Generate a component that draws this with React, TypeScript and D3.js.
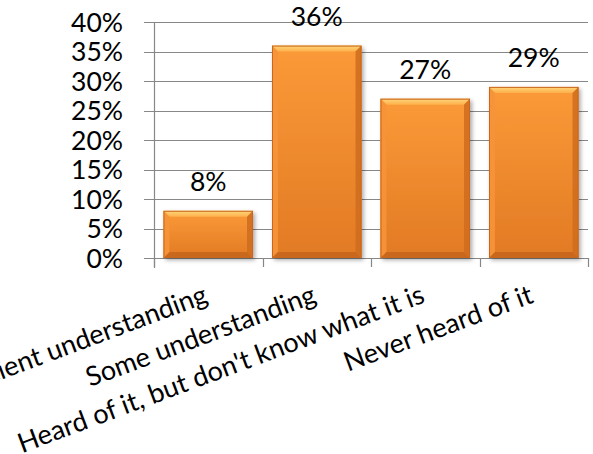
import React from "react";
import * as d3 from "d3";

const categories = [
  "Sufficient understanding",
  "Some understanding",
  "Heard of it, but don't know what it is",
  "Never heard of it",
];
const values = [0.08, 0.36, 0.27, 0.29];
const valueLabels = ["8%", "36%", "27%", "29%"];
const yTicks = [0, 0.05, 0.1, 0.15, 0.2, 0.25, 0.3, 0.35, 0.4];

const W = 593;
const H = 454;
const FONT = "Lato, 'Open Sans', sans-serif";

export default function App() {
  const x = d3
    .scaleBand<string>()
    .domain(categories)
    .range([154, 588])
    .paddingInner(0.175)
    .paddingOuter(0.0875);
  const y = d3.scaleLinear().domain([0, 0.4]).range([258, 22]);
  const step = x.step();
  const bw = x.bandwidth();
  const bev = 6;
  const fmt = d3.format(".0%");

  return (
    <svg
      width={W}
      height={H}
      style={{ position: "absolute", left: 0, top: 0, background: "#fff" }}
      fontFamily={FONT}
    >
      <defs>
        <linearGradient id="body" x1="0" y1="0" x2="0" y2="1">
          <stop offset="0" stopColor="#FB9A38" />
          <stop offset="1" stopColor="#E27A24" />
        </linearGradient>
        <linearGradient id="topb" x1="0" y1="0" x2="0" y2="1">
          <stop offset="0" stopColor="#FFD67C" />
          <stop offset="1" stopColor="#FDB04A" />
        </linearGradient>
        <filter id="shadow" x="-20%" y="-20%" width="140%" height="140%">
          <feDropShadow dx="2" dy="2" stdDeviation="2" floodColor="#000" floodOpacity="0.35" />
        </filter>
      </defs>

      {/* gridlines */}
      {yTicks.map((t) => (
        <line
          key={"g" + t}
          x1={144}
          x2={588}
          y1={Math.round(y(t)) + 0.5}
          y2={Math.round(y(t)) + 0.5}
          stroke="#878787"
          strokeWidth={1.2}
        />
      ))}
      {/* y axis line */}
      <line x1={154.5} x2={154.5} y1={y(0.4)} y2={268} stroke="#878787" strokeWidth={1.2} />
      {/* category ticks */}
      {categories.map((c, i) => {
        const xx = Math.round((x(c) as number) - (step - bw) / 2) + 0.5;
        return <line key={"t" + i} x1={xx} x2={xx} y1={258} y2={267} stroke="#878787" strokeWidth={1.2} />;
      })}
      <line x1={588.5} x2={588.5} y1={258} y2={267} stroke="#878787" strokeWidth={1.2} />

      {/* y tick labels */}
      {yTicks.map((t) => (
        <text
          key={"l" + t}
          x={123}
          y={y(t) + 9.5}
          textAnchor="end"
          fontSize={26.5}
          fill="#000"
        >
          {fmt(t)}
        </text>
      ))}

      {/* bars */}
      {categories.map((c, i) => {
        const x0 = x(c) as number;
        const x1 = x0 + bw;
        const y0 = y(values[i]);
        const y1 = y(0);
        return (
          <g key={"b" + i}>
            <rect x={x0} y={y0} width={bw} height={y1 - y0} fill="url(#body)" filter="url(#shadow)" />
            <polygon
              points={`${x0},${y0} ${x1},${y0} ${x1 - bev},${y0 + bev} ${x0 + bev},${y0 + bev}`}
              fill="url(#topb)"
            />
            <polygon
              points={`${x0},${y0} ${x0 + bev},${y0 + bev} ${x0 + bev},${y1 - bev} ${x0},${y1}`}
              fill="#F6933A"
              opacity={0.9}
            />
            <polygon
              points={`${x1},${y0} ${x1},${y1} ${x1 - bev},${y1 - bev} ${x1 - bev},${y0 + bev}`}
              fill="#CF6C1E"
              opacity={0.85}
            />
            <polygon
              points={`${x0},${y1} ${x1},${y1} ${x1 - bev},${y1 - bev} ${x0 + bev},${y1 - bev}`}
              fill="#C4651C"
              opacity={0.85}
            />
            <rect x={x0 + 0.5} y={y0 + 0.5} width={bw - 1} height={y1 - y0 - 1} fill="none" stroke="#C8681E" strokeWidth={1} />
          </g>
        );
      })}

      {/* data labels */}
      {categories.map((c, i) => (
        <text
          key={"v" + i}
          x={(x(c) as number) + bw / 2}
          y={y(values[i]) - 20}
          textAnchor="middle"
          fontSize={26.5}
          fill="#000"
        >
          {valueLabels[i]}
        </text>
      ))}

      {/* category labels */}
      {categories.map((c, i) => {
        const cx = (x(c) as number) + bw / 2 + 1;
        const cy = 302;
        return (
          <text
            key={"c" + i}
            x={cx}
            y={cy}
            textAnchor="end"
            fontSize={27}
            fill="#000"
            transform={`rotate(-20.5 ${cx} ${cy})`}
          >
            {c}
          </text>
        );
      })}
    </svg>
  );
}
